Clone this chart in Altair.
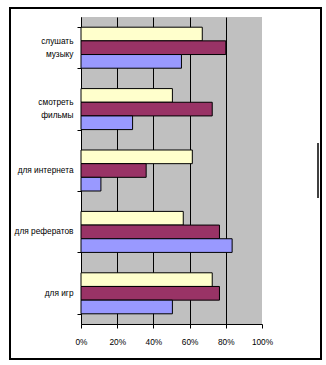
import altair as alt
import pandas as pd

categories = ["слушать\nмузыку", "смотреть\nфильмы", "для интернета", "для рефератов", "для игр"]
series = ["Ряд1", "Ряд2", "Ряд3"]
colors = ["#FFFFCC", "#993366", "#9999FF"]
values_1 = [0.67, 0.505, 0.615, 0.565, 0.725]
values_2 = [0.80, 0.725, 0.36, 0.765, 0.765]
values_3 = [0.555, 0.285, 0.11, 0.835, 0.505]
x_ticks = [0, 0.2, 0.4, 0.6, 0.8, 1.0]

rows = []
for s, vals in zip(series, [values_1, values_2, values_3]):
    for c, v in zip(categories, vals):
        rows.append({"cat": c, "series": s, "value": v})
df = pd.DataFrame(rows)

bars = alt.Chart(df).mark_bar(stroke="black", strokeWidth=1).encode(
    y=alt.Y("cat:N", sort=categories, title=None,
            scale=alt.Scale(paddingInner=0.332, paddingOuter=0.166),
            axis=alt.Axis(labelExpr="isValid(datum.value) ? split(datum.value, '\\n') : ''",
                          labelFont="Liberation Sans",
                          labelFontSize=8.3, labelColor="black", labelLineHeight=13,
                          labelOffset={"condition": {"test": "isValid(datum.value) && indexof(datum.value, '\\n') >= 0", "value": -6.5}, "value": 0},
                          labelPadding=4, tickSize=4, tickColor="black", domainColor="black",
                          tickBand="extent", labelAlign="right")),
    yOffset=alt.YOffset("series:N", sort=series, scale=alt.Scale(paddingInner=0, paddingOuter=0)),
    x=alt.X("value:Q", title=None, scale=alt.Scale(domain=[0, 1], nice=False),
            axis=alt.Axis(values=x_ticks, format=".0%", labelFont="Liberation Sans",
                          labelFontSize=8.3, labelColor="black", labelPadding=9, tickSize=4,
                          tickColor="black", domainColor="black", gridColor="black",
                          gridOpacity={"condition": {"test": "datum.value >= 1", "value": 0}, "value": 1},
                          labelFlush=False)),
    color=alt.Color("series:N", sort=series, scale=alt.Scale(domain=series, range=colors), legend=None),
)

dummy = pd.DataFrame({"a": [0]})
frame = alt.Chart(dummy).mark_rect(filled=False, stroke="black", strokeWidth=2, clip=False).encode(
    x=alt.value(-71), x2=alt.value(240), y=alt.value(-9), y2=alt.value(342)
)
seg = alt.Chart(dummy).mark_rule(stroke="black", strokeWidth=1.5, clip=False).encode(
    x=alt.value(237), y=alt.value(126), y2=alt.value(181)
)

chart = alt.layer(bars, frame, seg).properties(
    width=181, height=307,
    background="white",
    autosize=alt.AutoSizeParams(type="none"),
    padding={"left": 81, "top": 17, "right": 64, "bottom": 41},
).configure_view(fill="#C0C0C0", stroke=None)

chart.save("out.html", embed_options={"renderer": "svg", "actions": False})
